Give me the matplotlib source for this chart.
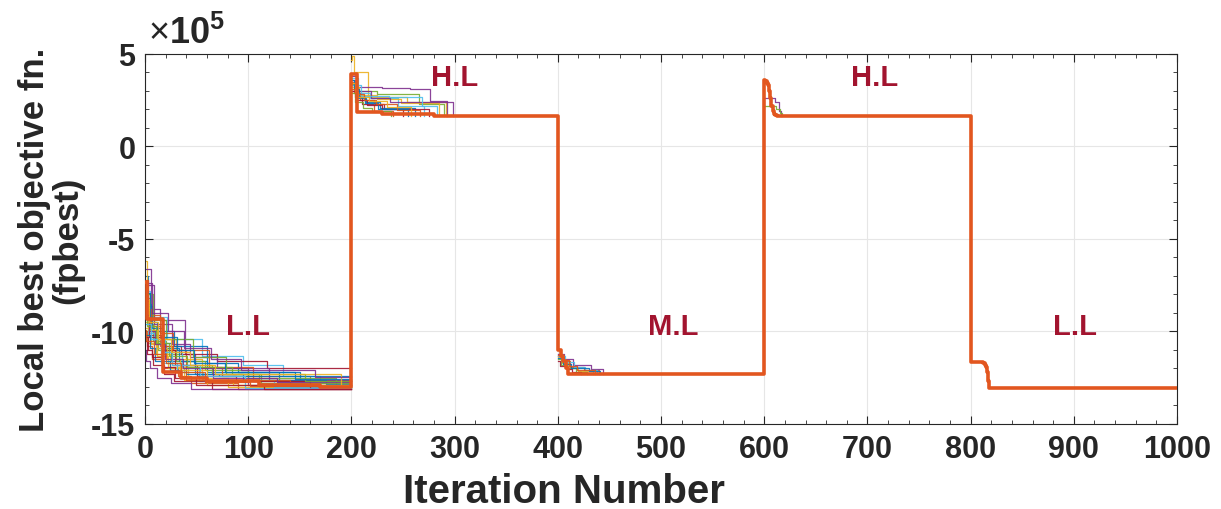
import matplotlib
matplotlib.use("Agg")
import matplotlib.pyplot as plt
from matplotlib.ticker import MultipleLocator

# ---------------- data (objective values in units of 1e5) ----------------
# Thick global trace (iteration breakpoints, value held until next breakpoint)
best_iter = [0, 2, 17, 35, 60, 110, 170, 200, 205, 230, 280, 400, 403, 405, 408, 410,
             600, 601, 603, 604, 605, 606, 607, 608, 609, 610, 612,
             800, 812, 814, 815, 816, 817, 818, 1000]
best_val = [-7.3, -9.3, -12.2, -12.5, -12.7, -12.9, -13.0, 3.9, 1.85, 1.78, 1.65, -11.0, -11.3, -11.6, -12.0, -12.3,
            3.6, 3.55, 3.45, 3.3, 3.0, 2.6, 2.2, 1.9, 1.75, 1.7, 1.65,
            -11.65, -11.7, -11.8, -11.9, -12.2, -12.7, -13.05, -13.05]

# Particle local-best traces, phase L.L (0-200)
ll_iters = [
    [0, 3, 12, 25, 60, 130, 200],
    [0, 5, 18, 40, 75, 160, 200],
    [0, 2, 9, 30, 55, 200],
    [0, 6, 14, 39, 48, 100, 200],
    [0, 3, 8, 20, 36, 65, 110, 200],
    [0, 5, 21, 55, 95, 134, 170, 200],
    [0, 4, 15, 35, 70, 118, 200],
    [0, 6, 28, 60, 90, 150, 200],
    [0, 2, 7, 16, 32, 45, 90, 200],
    [0, 3, 11, 24, 42, 80, 200],
    [0, 9, 26, 44, 70, 120, 200],
    [0, 5, 13, 30, 58, 100, 185, 200],
    [0, 4, 19, 36, 52, 140, 200],
    [0, 2, 8, 18, 28, 65, 200],
    [0, 7, 17, 33, 48, 95, 175, 200],
    [0, 3, 14, 27, 62, 105, 200],
    [0, 6, 12, 22, 38, 85, 200],
    [0, 1, 5, 12, 25, 45, 200],
    [0, 8, 20, 46, 78, 112, 200],
    [0, 3, 9, 15, 31, 56, 125, 200],
    [0, 4, 16, 29, 50, 88, 160, 200],
    [0, 5, 10, 24, 40, 72, 200],
    [0, 2, 6, 14, 26, 40, 140, 200],
    [0, 3, 12, 21, 34, 60, 200],
    [0, 4, 10, 19, 37, 66, 128, 200],
    [0, 2, 11, 23, 41, 84, 155, 200],
    [0, 6, 15, 26, 53, 97, 200],
    [0, 3, 7, 17, 29, 49, 115, 200],
    [0, 5, 16, 31, 47, 77, 145, 200],
    [0, 1, 9, 20, 35, 58, 102, 200],
    [0, 4, 13, 25, 44, 68, 190, 200],
    [0, 7, 22, 38, 64, 93, 165, 200],
]
ll_vals = [
    [-7.0, -9.5, -10.6, -11.6, -12.2, -12.7, -12.7],
    [-8.2, -10.0, -11.0, -11.9, -12.4, -12.9, -12.9],
    [-6.2, -9.0, -10.4, -11.5, -12.6, -12.6],
    [-6.6, -8.8, -9.4, -11.2, -12.0, -12.9, -12.9],
    [-8.8, -9.6, -10.5, -11.2, -11.8, -12.3, -13.0, -13.0],
    [-7.8, -9.2, -10.4, -11.3, -11.8, -12.4, -12.8, -12.8],
    [-9.0, -10.2, -10.8, -11.2, -11.6, -11.95, -11.95],
    [-8.5, -10.0, -10.8, -11.7, -12.2, -12.7, -12.7],
    [-10.0, -10.8, -11.5, -12.0, -12.4, -12.8, -13.1, -13.1],
    [-9.5, -10.6, -11.2, -11.9, -12.5, -13.0, -13.0],
    [-7.5, -9.6, -10.7, -11.4, -12.0, -12.6, -12.6],
    [-8.0, -9.9, -11.0, -11.6, -12.1, -12.5, -12.9, -12.9],
    [-9.2, -10.3, -11.1, -12.0, -12.7, -13.0, -13.0],
    [-10.5, -11.2, -11.8, -12.3, -12.7, -13.1, -13.1],
    [-8.6, -9.8, -10.9, -11.6, -12.3, -12.6, -12.85, -12.85],
    [-7.2, -9.1, -10.1, -11.0, -11.9, -12.7, -12.7],
    [-9.8, -10.7, -11.3, -12.0, -12.6, -12.9, -12.9],
    [-11.0, -11.6, -12.0, -12.5, -12.8, -13.1, -13.1],
    [-8.0, -9.4, -10.4, -11.4, -12.3, -12.8, -12.8],
    [-9.3, -10.1, -10.9, -11.7, -12.2, -12.6, -13.0, -13.0],
    [-8.9, -10.3, -11.0, -11.8, -12.4, -12.7, -13.05, -13.05],
    [-10.2, -10.9, -11.6, -12.1, -12.3, -12.4, -12.4],
    [-7.6, -8.8, -9.7, -10.8, -11.8, -12.6, -12.95, -12.95],
    [-8.4, -9.9, -10.9, -11.5, -12.1, -12.9, -12.9],
    [-9.1, -10.0, -10.7, -11.5, -12.0, -12.5, -12.75, -12.75],
    [-8.7, -9.7, -10.6, -11.3, -11.9, -12.3, -12.65, -12.65],
    [-9.6, -10.4, -11.1, -11.8, -12.4, -13.05, -13.05],
    [-10.3, -11.0, -11.4, -11.9, -12.5, -12.9, -13.1, -13.1],
    [-7.9, -9.3, -10.3, -11.0, -11.7, -12.2, -12.55, -12.55],
    [-9.9, -10.5, -11.2, -11.7, -12.2, -12.75, -12.95, -12.95],
    [-8.3, -9.5, -10.4, -11.1, -11.8, -12.3, -12.9, -12.9],
    [-7.4, -9.0, -10.0, -10.9, -11.5, -12.1, -12.45, -12.45],
]

# Phase H.L (200-400)
hl_iters = [
    [200, 201, 202, 216, 254, 292],
    [200, 203, 230, 257, 276, 293],
    [200, 205, 225, 265, 290],
    [200, 206, 218, 245, 270],
    [200, 203, 210, 232, 250],
    [200, 204, 214, 228, 262],
    [200, 202, 208, 222, 240],
    [200, 207, 225, 248, 285],
    [200, 205, 219, 237, 298],
    [200, 203, 211, 220, 238],
    [200, 209, 236, 268, 283],
    [200, 204, 215, 230, 275],
    [200, 202, 207, 213, 226, 255],
    [200, 204, 212, 224, 244, 266],
    [200, 203, 206, 217, 234, 258],
]
hl_vals = [
    [4.7, 4.9, 4.0, 2.7, 2.4, 1.65],
    [3.6, 3.2, 3.15, 3.1, 2.45, 1.65],
    [3.4, 3.0, 2.85, 2.3, 1.65],
    [3.7, 2.9, 2.6, 2.2, 1.65],
    [3.3, 2.7, 2.3, 2.0, 1.65],
    [3.0, 2.6, 2.4, 2.1, 1.65],
    [3.5, 2.9, 2.5, 1.9, 1.65],
    [3.2, 2.8, 2.55, 2.35, 1.65],
    [3.8, 3.0, 2.6, 2.4, 1.65],
    [2.9, 2.4, 2.1, 1.9, 1.65],
    [3.3, 2.75, 2.65, 2.2, 1.65],
    [3.0, 2.5, 2.25, 2.05, 1.65],
    [3.6, 3.1, 2.7, 2.35, 2.0, 1.65],
    [3.1, 2.85, 2.5, 2.3, 1.95, 1.65],
    [3.45, 2.95, 2.65, 2.45, 2.15, 1.65],
]

# Phase M.L (400-600)
ml_iters = [
    [400, 405, 412, 425, 440],
    [400, 404, 410, 420, 434],
    [400, 406, 415, 432, 444],
    [400, 403, 409, 418, 428],
    [400, 407, 416, 426, 438],
    [400, 402, 408, 414, 422],
    [400, 405, 413, 430, 441],
    [400, 404, 411, 419, 436],
]
ml_vals = [
    [-11.3, -11.6, -11.9, -12.1, -12.3],
    [-11.4, -11.7, -11.95, -12.15, -12.3],
    [-11.2, -11.5, -11.8, -12.05, -12.3],
    [-11.5, -11.8, -12.0, -12.2, -12.3],
    [-11.35, -11.65, -11.9, -12.1, -12.3],
    [-11.6, -11.85, -12.05, -12.2, -12.3],
    [-11.45, -11.75, -12.0, -12.15, -12.3],
    [-11.25, -11.55, -11.85, -12.1, -12.3],
]

# Phase H.L (600-800)
hl2_iters = [
    [600, 610, 614, 616],
    [600, 611, 615, 617],
]
hl2_vals = [
    [2.6, 2.4, 1.9, 1.65],
    [2.2, 2.0, 1.8, 1.65],
]

phase_labels = ["L.L", "H.L", "M.L", "H.L", "L.L"]
phase_label_x = [100, 300, 512, 707, 901]
phase_label_y = [-9.7, 3.75, -9.7, 3.75, -9.7]

x_ticks = [0, 100, 200, 300, 400, 500, 600, 700, 800, 900, 1000]
y_ticks = [-15, -10, -5, 0, 5]

# ---------------- styling ----------------
plt.rcParams["font.family"] = ["Liberation Sans", "DejaVu Sans"]
plt.rcParams["mathtext.fontset"] = "custom"
plt.rcParams["mathtext.rm"] = "Liberation Sans"
plt.rcParams["mathtext.bf"] = "Liberation Sans:bold"

matlab_colors = ["#0072BD", "#D95319", "#EDB120", "#7E2F8E", "#77AC30", "#4DBEEE", "#A2142F"]
label_red = "#A2142F"
ink = "#262626"

fig = plt.figure(figsize=(12.21, 5.10), dpi=100)
ax = fig.add_axes([0.1188, 0.1667, 0.8452, 0.7255])

def draw_group(iters, vals, offset):
    for k, (xs, ys) in enumerate(zip(iters, vals)):
        ax.plot(xs, ys, drawstyle="steps-post", lw=0.9, alpha=0.9,
                color=matlab_colors[(k + offset) % len(matlab_colors)], zorder=2)

draw_group(ll_iters, ll_vals, 0)
draw_group(hl_iters, hl_vals, 2)
draw_group(ml_iters, ml_vals, 1)
draw_group(hl2_iters, hl2_vals, 3)

ax.plot(best_iter, best_val, drawstyle="steps-post", lw=2.6, color="#E2561F",
        solid_joinstyle="round", zorder=3)

for t, xx, yy in zip(phase_labels, phase_label_x, phase_label_y):
    ax.text(xx, yy, t, color=label_red, fontsize=21, fontweight="bold",
            ha="center", va="center", zorder=4)

ax.set_xlim(0, 1000)
ax.set_ylim(-15, 5)
ax.set_xticks(x_ticks)
ax.set_yticks(y_ticks)
ax.set_xticklabels([str(v) for v in x_ticks])
ax.set_yticklabels([str(v) for v in y_ticks])
ax.xaxis.set_minor_locator(MultipleLocator(20))
ax.yaxis.set_minor_locator(MultipleLocator(1))
ax.tick_params(which="both", direction="in", top=True, right=True, color=ink)
ax.tick_params(which="major", length=6, width=0.8, labelsize=22, pad=7)
ax.tick_params(which="minor", length=3, width=0.6)
for lbl in ax.get_xticklabels() + ax.get_yticklabels():
    lbl.set_fontweight("bold")
    lbl.set_color(ink)
ax.grid(True, which="major", color="#E6E6E6", lw=0.8)
ax.set_axisbelow(True)
for s in ax.spines.values():
    s.set_color(ink)
    s.set_linewidth(0.8)

ax.set_ylabel("Local best objective fn.\n(fpbest)", fontsize=25, fontweight="bold",
              color=ink, labelpad=5, linespacing=1.0)
fig.text(564 / 1221, 1 - 492 / 510, "Iteration Number", fontsize=29, fontweight="bold",
         color=ink, ha="center", va="center")

ax.text(0.003, 1.008, r"$\times\mathbf{10^{5}}$", transform=ax.transAxes, fontsize=26,
        ha="left", va="bottom", color=ink)

fig.savefig("out.png", dpi=100)
